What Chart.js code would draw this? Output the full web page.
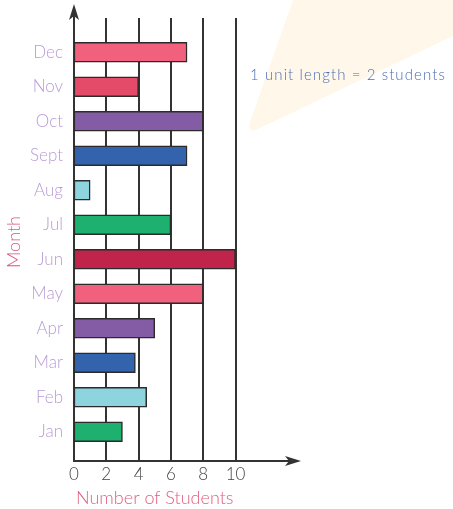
<!DOCTYPE html>
<html>
<head>
<meta charset="utf-8">
<script src="https://cdn.jsdelivr.net/npm/chart.js@4"></script>
<style>
  body { margin: 0; background: #fff; }
  canvas { display: block; }
</style>
</head>
<body>
<canvas id="chart" width="453" height="509"></canvas>
<script>
// ── Data ──
const months = ['Jan', 'Feb', 'Mar', 'Apr', 'May', 'Jun', 'Jul', 'Aug', 'Sept', 'Oct', 'Nov', 'Dec'];
const students = [3, 4.5, 3.8, 5, 8, 10, 6, 1, 7, 8, 4, 7];
const barColors = ['#1db06e', '#8dd4df', '#3463ad', '#845ca6', '#f1607d', '#c0244a',
                   '#1db06e', '#8dd4df', '#3463ad', '#845ca6', '#e44b69', '#f1607d'];
const xTicks = [0, 2, 4, 6, 8, 10];
const note = '1 unit length = 2 students';

const FONT = 'Lato, "Open Sans", sans-serif';
const AXIS_COLOR = '#333';

// ── Decorations: light beam, gridlines, arrow axes, unit note ──
const decor = {
  id: 'decor',
  beforeDraw(chart) {
    const ctx = chart.ctx;
    ctx.save();
    ctx.fillStyle = '#fff8ea';
    ctx.beginPath();
    ctx.moveTo(293, 0);
    ctx.lineTo(453, 0);
    ctx.lineTo(453, 36);
    ctx.lineTo(256, 130);
    ctx.quadraticCurveTo(247, 133, 250, 122);
    ctx.closePath();
    ctx.fill();
    ctx.restore();
  },
  beforeDatasetsDraw(chart) {
    const ctx = chart.ctx;
    const x = chart.scales.x;
    const left = chart.chartArea.left;
    const axisY = chart.chartArea.bottom + 12;
    ctx.save();
    ctx.strokeStyle = AXIS_COLOR;
    ctx.lineWidth = 2;
    // vertical gridlines
    xTicks.slice(1).forEach(v => {
      const px = Math.round(x.getPixelForValue(v));
      ctx.beginPath();
      ctx.moveTo(px, 18);
      ctx.lineTo(px, axisY);
      ctx.stroke();
    });
    // axes
    ctx.beginPath();
    ctx.moveTo(left, 12);
    ctx.lineTo(left, axisY);
    ctx.lineTo(290, axisY);
    ctx.stroke();
    // arrow heads
    ctx.fillStyle = AXIS_COLOR;
    ctx.beginPath();
    ctx.moveTo(left, 4);
    ctx.lineTo(left + 5, 20);
    ctx.lineTo(left, 16);
    ctx.lineTo(left - 5, 20);
    ctx.closePath();
    ctx.fill();
    ctx.beginPath();
    ctx.moveTo(301, axisY);
    ctx.lineTo(285, axisY - 5);
    ctx.lineTo(289, axisY);
    ctx.lineTo(285, axisY + 5);
    ctx.closePath();
    ctx.fill();
    ctx.restore();
  },
  afterDraw(chart) {
    const ctx = chart.ctx;
    ctx.save();
    ctx.fillStyle = '#4b6db6';
    ctx.font = '300 15px ' + FONT;
    ctx.letterSpacing = '1.1px';
    ctx.textAlign = 'left';
    ctx.textBaseline = 'middle';
    ctx.fillText(note, 250, 75);
    ctx.restore();
  }
};

new Chart(document.getElementById('chart'), {
  type: 'bar',
  data: {
    labels: months,
    datasets: [{
      data: students,
      backgroundColor: barColors,
      borderColor: '#2b2b2b',
      borderWidth: 1.5,
      borderSkipped: false,
      barThickness: 20,
    }]
  },
  options: {
    indexAxis: 'y',
    responsive: false,
    animation: false,
    layout: { padding: { top: 35, right: 217.5, left: 0, bottom: 0 } },
    plugins: {
      legend: { display: false },
      tooltip: { enabled: false }
    },
    scales: {
      x: {
        min: 0,
        max: 10,
        ticks: {
          stepSize: 2,
          padding: 15,
          color: '#444',
          font: { family: FONT, size: 17, weight: 300 }
        },
        grid: { display: false, drawTicks: false },
        border: { display: false },
        title: {
          display: true,
          text: 'Number of Students',
          color: '#e0607e',
          font: { family: FONT, size: 18, weight: 300 },
          padding: { top: 0, bottom: 0 }
        },
        afterFit: s => { s.height = 60; }
      },
      y: {
        reverse: true,
        ticks: {
          padding: 11,
          color: '#b99ad6',
          font: { family: FONT, size: 17, weight: 300 }
        },
        grid: { display: false, drawTicks: false },
        border: { display: false },
        title: {
          display: true,
          text: 'Month',
          color: '#d9577a',
          font: { family: FONT, size: 18, weight: 300 },
          padding: { top: 3, bottom: 0 }
        },
        afterFit: s => { s.width = 74; }
      }
    }
  },
  plugins: [decor]
});
</script>
</body>
</html>
